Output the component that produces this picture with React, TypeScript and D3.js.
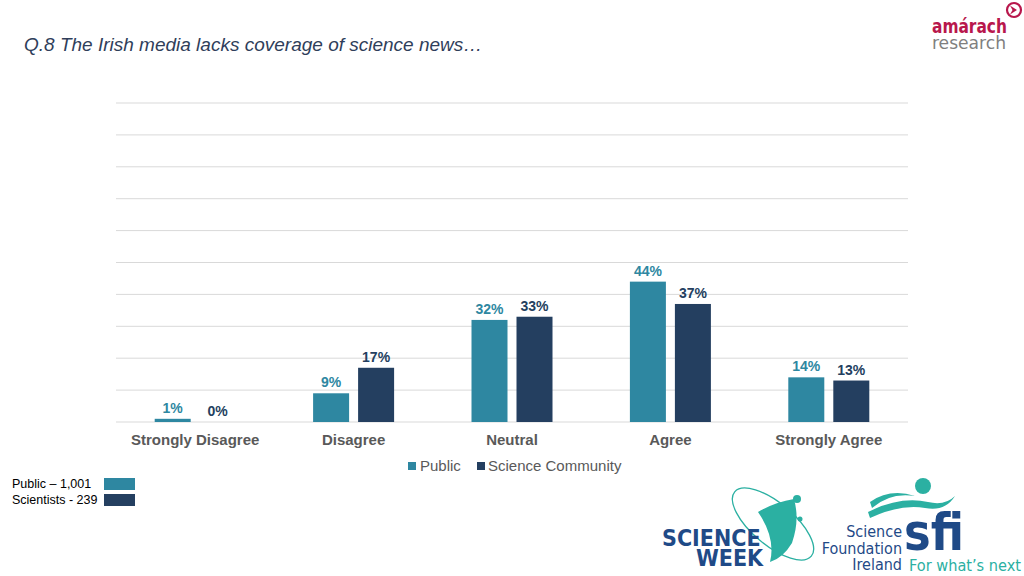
import * as d3 from "d3";

const categories = ["Strongly Disagree", "Disagree", "Neutral", "Agree", "Strongly Agree"];
const seriesNames = ["Public", "Science Community"];
const publicValues = [1, 9, 32, 44, 14];
const scienceValues = [0, 17, 33, 37, 13];
const gridTicks = [0, 10, 20, 30, 40, 50, 60, 70, 80, 90, 100];
const sampleNotes = ["Public – 1,001", "Scientists - 239"];

const colors = ["#2E87A1", "#243F60"];
const font = "'Liberation Sans', Arial, sans-serif";
const logoFont = "'DejaVu Sans Condensed', 'DejaVu Sans', sans-serif";

export default function App() {
  const width = 1024;
  const height = 576;
  const plot = { left: 116, right: 908, top: 103, bottom: 422 };

  const x = d3.scaleBand().domain(categories).range([plot.left, plot.right]).padding(0);
  const y = d3.scaleLinear().domain([0, 100]).range([plot.bottom, plot.top]);
  const inner = d3.scaleBand().domain(seriesNames).range([-40.5, 40.5]).paddingInner(0.2);
  const series = [publicValues, scienceValues];

  return (
    <div style={{ position: "fixed", left: 0, top: 0 }}>
      <svg width={width} height={height} style={{ display: "block", background: "#fff" }} fontFamily={font}>
        <text x={24} y={51} fontSize={19} fontStyle="italic" fill="#2F3E5A">
          Q.8 The Irish media lacks coverage of science news…
        </text>

        {/* gridlines */}
        {gridTicks.map((t) => (
          <line key={t} x1={plot.left} x2={plot.right} y1={y(t)} y2={y(t)} stroke="#D9D9D9" strokeWidth={1} />
        ))}

        {/* bars */}
        {series.map((vals, si) =>
          vals.map((v, ci) => {
            const cx = (x(categories[ci]) ?? 0) + x.bandwidth() / 2;
            const bx = cx + (inner(seriesNames[si]) ?? 0);
            const bw = inner.bandwidth();
            return (
              <g key={`${si}-${ci}`}>
                <rect x={bx} y={y(v)} width={bw} height={plot.bottom - y(v)} fill={colors[si]} />
                <text
                  x={bx + bw / 2}
                  y={y(v) - 6}
                  textAnchor="middle"
                  fontSize={14}
                  fontWeight="bold"
                  fill={colors[si]}
                >
                  {d3.format("d")(v)}%
                </text>
              </g>
            );
          })
        )}

        {/* category labels */}
        {categories.map((c) => (
          <text
            key={c}
            x={(x(c) ?? 0) + x.bandwidth() / 2}
            y={445}
            textAnchor="middle"
            fontSize={15}
            fontWeight="bold"
            fill="#595959"
          >
            {c}
          </text>
        ))}

        {/* legend */}
        <rect x={408} y={462} width={8} height={8} fill={colors[0]} />
        <text x={420} y={471} fontSize={15} fill="#595959">{seriesNames[0]}</text>
        <rect x={477} y={462} width={8} height={8} fill={colors[1]} />
        <text x={488} y={471} fontSize={15} fill="#595959">{seriesNames[1]}</text>

        {/* sample notes */}
        {sampleNotes.map((n, i) => (
          <g key={n}>
            <text x={12} y={488 + i * 16} fontSize={12.5} fill="#000">{n}</text>
            <rect x={104} y={478 + i * 16} width={31} height={12} fill={colors[i]} />
          </g>
        ))}

        {/* amarach logo */}
        <text x={932} y={33} fontSize={19} fontWeight="bold" fill="#B8174C" fontFamily={logoFont} textLength={75} lengthAdjust="spacingAndGlyphs">
          amárach
        </text>
        <text x={932} y={49} fontSize={18} fill="#7F7F7F" fontFamily={logoFont} textLength={74} lengthAdjust="spacingAndGlyphs">
          research
        </text>
        <circle cx={1014} cy={10} r={7} fill="none" stroke="#B8174C" strokeWidth={2.2} />
        <path d="M1010,5.5 L1017,10 L1010,14.5 L1012.5,10 Z" fill="#B8174C" />

        {/* science week logo */}
        <ellipse cx={773} cy={524} rx={50} ry={21} transform="rotate(40 773 524)" fill="none" stroke="#2BB0A2" strokeWidth={1.3} />
        <path d="M758,512 Q775,502 794,499 Q800,520 792,543 Q783,558 770,562 Q776,538 758,512 Z" fill="#2BB0A2" />
        <circle cx={797} cy={499} r={4} fill="#2BB0A2" />
        <circle cx={800} cy={519} r={2.5} fill="#2BB0A2" />
        <text x={662} y={546} fontSize={23} fontWeight="bold" fill="#1F4A87" fontFamily={logoFont}>
          SCIENCE
        </text>
        <text x={696} y={566} fontSize={23} fontWeight="bold" fill="#1F4A87" fontFamily={logoFont}>
          WEEK
        </text>

        {/* sfi logo */}
        <path d="M870,502 Q890,488 915,496 Q890,492 872,508 Z" fill="#2BB0A2" />
        <path d="M868,512 Q900,496 928,502 Q945,506 955,496 Q945,512 925,508 Q900,504 870,518 Z" fill="#2BB0A2" />
        <circle cx={923} cy={486} r={8} fill="#2BB0A2" />
        <text x={904} y={550} fontSize={52} fontWeight="bold" fill="#1F4A87" fontFamily={logoFont} textLength={60} lengthAdjust="spacingAndGlyphs">
          sfi
        </text>
        {["Science", "Foundation", "Ireland"].map((t, i) => (
          <text key={t} x={902} y={537 + i * 16.5} textAnchor="end" fontSize={16} fill="#1F4A87" fontFamily={logoFont}>
            {t}
          </text>
        ))}
        <text x={909} y={571} fontSize={16} fill="#2BB0A2" fontFamily={logoFont} textLength={112} lengthAdjust="spacingAndGlyphs">
          For what’s next
        </text>
      </svg>
    </div>
  );
}
